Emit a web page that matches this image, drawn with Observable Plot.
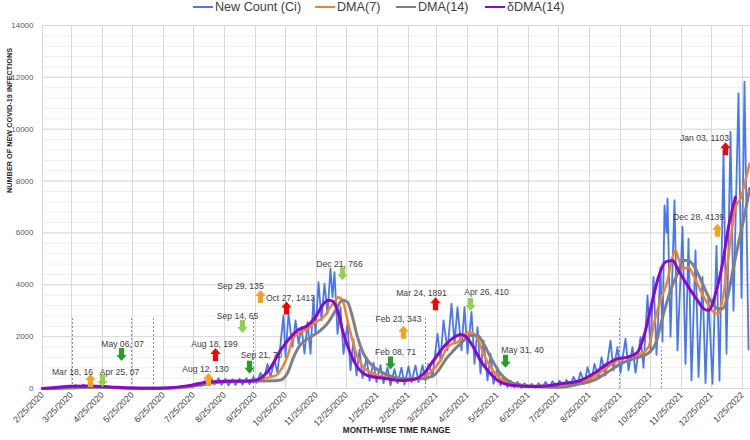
<!DOCTYPE html>
<html><head><meta charset="utf-8">
<script src="https://cdn.jsdelivr.net/npm/d3@7"></script>
<script src="https://cdn.jsdelivr.net/npm/@observablehq/plot@0.6"></script>
<style>
body{margin:0;background:#fff;font-family:"Liberation Sans",Arial,sans-serif;}
#wrap{position:relative;width:750px;height:440px;overflow:hidden;}
#legend{position:relative;height:20px;font-size:12.6px;color:#404040;}
#legend .item{position:absolute;top:0;height:14px;display:flex;align-items:center;white-space:nowrap;}
#legend .sw{display:inline-block;width:20px;height:2.5px;margin-right:2px;}
#chart svg{display:block;}
</style></head><body>
<div id="wrap"><div id="legend"></div><div id="chart"></div></div>
<script>
// ---------- DATA ----------
const seriesNames = ["New Count (Ci)", "DMA(7)", "DMA(14)", "δDMA(14)"];

const newCount = [
["2020-02-25",0],["2020-03-02",5],["2020-03-09",30],["2020-03-14",60],["2020-03-17",20],["2020-03-21",110],
["2020-03-25",40],["2020-03-29",130],["2020-04-02",50],["2020-04-06",140],["2020-04-10",60],["2020-04-14",120],
["2020-04-18",40],["2020-04-22",100],["2020-04-27",30],["2020-05-02",70],["2020-05-07",20],["2020-05-13",40],
["2020-05-21",10],["2020-06-02",20],["2020-06-12",5],["2020-06-22",30],["2020-06-28",10],["2020-07-04",50],
["2020-07-08",20],["2020-07-13",90],["2020-07-17",40],["2020-07-21",150],["2020-07-25",60],["2020-07-29",220],
["2020-08-01",90],["2020-08-05",300],["2020-08-08",120],["2020-08-12",380],["2020-08-15",150],["2020-08-19",400],
["2020-08-22",140],["2020-08-26",380],["2020-08-29",120],["2020-09-02",360],["2020-09-05",130],["2020-09-09",380],
["2020-09-12",150],["2020-09-16",400],["2020-09-19",170],["2020-09-23",450],["2020-09-26",220],["2020-09-30",600],
["2020-10-03",320],["2020-10-07",950],["2020-10-10",420],["2020-10-14",1100],["2020-10-17",600],["2020-10-23",2820],
["2020-10-25",1210],["2020-10-28",2880],["2020-11-01",1600],["2020-11-04",2625],["2020-11-07",1730],["2020-11-10",2370],
["2020-11-13",1340],["2020-11-16",2560],["2020-11-19",1340],["2020-11-22",3520],["2020-11-24",2110],["2020-11-27",4100],
["2020-11-30",2625],["2020-12-03",4040],["2020-12-06",2880],["2020-12-09",4620],["2020-12-11",3520],["2020-12-13",4490],
["2020-12-16",2110],["2020-12-19",3140],["2020-12-22",1340],["2020-12-26",2500],["2020-12-29",700],["2021-01-01",1900],
["2021-01-04",500],["2021-01-07",1500],["2021-01-10",400],["2021-01-14",1200],["2021-01-17",300],["2021-01-21",1000],
["2021-01-24",250],["2021-01-28",900],["2021-01-31",200],["2021-02-04",800],["2021-02-07",120],["2021-02-11",750],
["2021-02-14",200],["2021-02-18",800],["2021-02-21",150],["2021-02-25",850],["2021-02-28",250],["2021-03-04",890],
["2021-03-07",250],["2021-03-11",900],["2021-03-14",300],["2021-03-17",950],["2021-03-21",450],["2021-03-26",2110],
["2021-03-29",1080],["2021-04-01",2625],["2021-04-05",1470],["2021-04-09",3270],["2021-04-12",1730],["2021-04-15",3140],
["2021-04-19",1470],["2021-04-22",3140],["2021-04-25",1340],["2021-04-29",2950],["2021-05-02",950],["2021-05-05",2370],
["2021-05-08",570],["2021-05-11",1850],["2021-05-15",310],["2021-05-18",1340],["2021-05-21",180],["2021-05-25",820],
["2021-05-28",115],["2021-05-31",440],["2021-06-04",60],["2021-06-07",300],["2021-06-11",50],["2021-06-14",250],
["2021-06-18",30],["2021-06-21",200],["2021-06-25",40],["2021-06-28",180],["2021-07-02",30],["2021-07-05",200],
["2021-07-09",50],["2021-07-12",250],["2021-07-16",60],["2021-07-19",280],["2021-07-23",80],["2021-07-26",300],
["2021-07-30",100],["2021-08-02",330],["2021-08-06",120],["2021-08-09",450],["2021-08-13",150],["2021-08-16",630],
["2021-08-20",200],["2021-08-23",820],["2021-08-27",300],["2021-08-30",950],["2021-09-03",400],["2021-09-06",1210],
["2021-09-10",500],["2021-09-15",1850],["2021-09-18",700],["2021-09-22",1600],["2021-09-25",600],["2021-09-30",1920],
["2021-10-03",700],["2021-10-07",1600],["2021-10-10",600],["2021-10-15",1980],["2021-10-18",800],["2021-10-22",3590],
["2021-10-25",1500],["2021-10-28",4300],["2021-10-31",1300],["2021-11-04",4680],["2021-11-06",1800],["2021-11-08",7060],
["2021-11-10",6000],["2021-11-11",7330],["2021-11-14",2000],["2021-11-18",7260],["2021-11-21",1470],["2021-11-26",6230],
["2021-11-29",950],["2021-12-02",5780],["2021-12-05",310],["2021-12-09",5330],["2021-12-12",440],["2021-12-16",4300],
["2021-12-19",200],["2021-12-22",3520],["2021-12-26",180],["2021-12-30",5500],["2022-01-02",300],["2022-01-06",9190],
["2022-01-09",1340],["2022-01-13",9900],["2022-01-16",3000],["2022-01-21",11380],["2022-01-24",3500],["2022-01-27",11830],
["2022-01-31",1500]
];

const dma7 = [
["2020-02-25",0],["2020-03-14",20],["2020-04-03",60],["2020-04-23",50],["2020-05-13",20],["2020-06-02",5],
["2020-07-02",20],["2020-07-22",80],["2020-08-06",200],["2020-08-16",280],["2020-08-29",300],["2020-09-10",290],
["2020-09-22",320],["2020-10-02",380],["2020-10-10",450],["2020-10-16",520],["2020-10-23",900],["2020-10-27",1250],
["2020-11-02",1980],["2020-11-09",2170],["2020-11-16",2300],["2020-11-24",2560],["2020-12-02",2750],["2020-12-09",3140],
["2020-12-14",3400],["2020-12-17",3520],["2020-12-21",3400],["2020-12-26",2625],["2020-12-31",1850],["2021-01-05",1210],
["2021-01-11",820],["2021-01-21",570],["2021-02-04",410],["2021-02-17",375],["2021-03-09",375],["2021-03-19",630],
["2021-03-29",1080],["2021-04-05",1600],["2021-04-10",1730],["2021-04-15",1790],["2021-04-23",2110],["2021-04-28",2170],
["2021-05-05",1920],["2021-05-11",1340],["2021-05-18",820],["2021-05-28",375],["2021-06-10",180],["2021-06-27",100],
["2021-07-27",115],["2021-08-16",245],["2021-08-29",440],["2021-09-12",820],["2021-09-22",1080],["2021-10-02",1210],
["2021-10-15",1340],["2021-10-23",1600],["2021-10-30",2750],["2021-11-04",3400],["2021-11-11",4170],["2021-11-16",5070],
["2021-11-19",5330],["2021-11-22",5000],["2021-11-27",4620],["2021-12-02",4680],["2021-12-07",4360],["2021-12-14",3780],
["2021-12-21",3270],["2021-12-27",2950],["2022-01-01",2880],["2022-01-06",3650],["2022-01-13",5710],["2022-01-18",7000],
["2022-01-23",7320],["2022-01-28",8030],["2022-02-01",8670]
];

const dma14 = [
["2020-02-25",0],["2020-03-24",20],["2020-04-13",50],["2020-05-03",40],["2020-05-23",15],["2020-06-22",10],
["2020-07-17",60],["2020-08-01",130],["2020-08-16",230],["2020-08-31",270],["2020-09-15",280],["2020-09-30",290],
["2020-10-13",300],["2020-10-20",330],["2020-10-27",600],["2020-11-02",1200],["2020-11-09",1700],["2020-11-19",1980],
["2020-11-29",2240],["2020-12-07",2560],["2020-12-14",3010],["2020-12-21",3400],["2020-12-26",3330],["2020-12-31",2750],
["2021-01-05",1980],["2021-01-11",1340],["2021-01-18",950],["2021-01-28",650],["2021-02-10",440],["2021-02-24",375],
["2021-03-09",375],["2021-03-22",500],["2021-04-05",1210],["2021-04-18",1730],["2021-04-28",2045],["2021-05-05",2045],
["2021-05-11",1730],["2021-05-18",1210],["2021-05-28",570],["2021-06-07",245],["2021-06-20",115],["2021-07-12",60],
["2021-07-27",50],["2021-08-16",180],["2021-08-29",310],["2021-09-12",630],["2021-09-25",950],["2021-10-08",1150],
["2021-10-22",1340],["2021-10-30",1730],["2021-11-07",2880],["2021-11-14",3780],["2021-11-21",4430],["2021-11-27",4940],
["2021-12-02",4940],["2021-12-09",4620],["2021-12-16",4040],["2021-12-24",3400],["2021-12-31",3080],["2022-01-05",3080],
["2022-01-10",3520],["2022-01-16",4680],["2022-01-23",5970],["2022-01-30",7260],["2022-02-01",7710]
];

const deltaDma14 = [
["2020-02-25",0],["2020-03-09",40],["2020-03-24",90],["2020-04-13",100],["2020-05-03",60],["2020-05-23",20],
["2020-06-12",10],["2020-07-02",30],["2020-07-22",120],["2020-08-06",230],["2020-08-21",270],["2020-09-05",280],
["2020-09-23",300],["2020-10-02",450],["2020-10-10",800],["2020-10-20",1470],["2020-10-30",1980],["2020-11-06",2240],
["2020-11-16",2430],["2020-11-24",2750],["2020-12-02",3270],["2020-12-07",3400],["2020-12-11",3370],["2020-12-16",3010],
["2020-12-22",2110],["2020-12-29",1350],["2021-01-05",820],["2021-01-15",500],["2021-02-04",375],["2021-02-17",310],
["2021-03-02",350],["2021-03-12",570],["2021-03-22",1080],["2021-04-01",1600],["2021-04-11",1960],["2021-04-18",2085],
["2021-04-23",2010],["2021-04-30",1660],["2021-05-08",1080],["2021-05-18",570],["2021-05-28",245],["2021-06-10",115],
["2021-06-27",80],["2021-07-12",100],["2021-07-27",180],["2021-08-16",310],["2021-08-29",570],["2021-09-12",950],
["2021-09-22",1150],["2021-10-02",1210],["2021-10-12",1400],["2021-10-20",2240],["2021-10-27",3400],["2021-11-02",4300],
["2021-11-09",4880],["2021-11-16",4940],["2021-11-22",4555],["2021-12-02",3910],["2021-12-11",3400],["2021-12-17",3080],
["2021-12-22",3010],["2021-12-29",3650],["2022-01-05",4810],["2022-01-11",6230],["2022-01-18",7380]
];

// vertical dashed markers: date, top value
const markerDates = ["2020-03-26","2020-05-24","2020-06-15","2020-09-23","2021-03-14","2021-09-24","2021-11-05"];
const markerTops  = [2750, 2750, 2750, 2750, 2750, 2750, 1580];

// annotations
const annotText = ["Mar 18, 16","Apr 25, 07","May 06, 07","Aug 12, 130","Aug 18, 199","Sep 21, 70","Sep 14, 65",
  "Sep 29, 135","Oct 27, 1413","Dec 21, 766","Feb 08, 71","Feb 23, 343","Mar 24, 1891","Apr 26, 410","May 31, 40",
  "Dec 28, 4139","Jan 03, 1103"];
const annotTextDate = ["2020-03-26","2020-05-12","2020-05-15","2020-08-06","2020-08-15","2020-10-01","2020-09-07",
  "2020-09-10","2020-10-30","2020-12-18","2021-02-12","2021-02-15","2021-03-10","2021-05-14","2021-06-19",
  "2021-12-12","2021-12-18"];
const annotTextValue = [630,630,1700,735,1700,1275,2780,3950,3490,4790,1390,2675,3655,3695,1467,6615,9640];
const annotArrowDate = ["2020-04-13","2020-04-25","2020-05-14","2020-08-09","2020-08-16","2020-09-19","2020-09-12",
  "2020-09-30","2020-10-26","2020-12-21","2021-02-07","2021-02-20","2021-03-24","2021-04-28","2021-06-02",
  "2021-12-31","2022-01-08"];
const annotArrowValue = [310,310,1310,350,1310,820,2390,3550,3100,4430,980,2170,3270,3240,1050,6100,9250];
const annotKind = ["rise","ease","drop","rise","surge","drop","ease","rise","surge","ease","drop","rise","surge","ease","drop","rise","surge"];

const xTickLabels = ["2/25/2020","3/25/2020","4/25/2020","5/25/2020","6/25/2020","7/25/2020","8/25/2020","9/25/2020",
  "10/25/2020","11/25/2020","12/25/2020","1/25/2021","2/25/2021","3/25/2021","4/25/2021","5/25/2021","6/25/2021",
  "7/25/2021","8/25/2021","9/25/2021","10/25/2021","11/25/2021","12/25/2021","1/25/2022"];
const yTicks = [0,2000,4000,6000,8000,10000,12000,14000];

// ---------- STYLE ----------
const seriesColors = ["#4877f5","#f5822a","#808080","#8a08c8"];
const markerColor = "#5a86f7";
const kindColor = {rise:"#f9a11b", ease:"#92d050", drop:"#2e9a2e", surge:"#ff0000"};
const kindDir = {rise:"up", ease:"down", drop:"down", surge:"up"};

// ---------- BUILD ----------
const parseISO = d3.utcParse("%Y-%m-%d");
const parseTick = d3.utcParse("%m/%d/%Y");
const rows = a => a.map(([d,v]) => ({date: parseISO(d), value: v}));
const xTicks = xTickLabels.map(parseTick);
const fmtTick = d3.utcFormat("%-m/%-d/%Y");

const markers = markerDates.map((d,i) => ({date: parseISO(d), top: markerTops[i]}));
const annots = annotText.map((t,i) => ({
  text: t, tdate: parseISO(annotTextDate[i]), tval: annotTextValue[i],
  adate: parseISO(annotArrowDate[i]), aval: annotArrowValue[i],
  color: kindColor[annotKind[i]], dir: kindDir[annotKind[i]]
}));

const upArrow = {draw(ctx){ ctx.moveTo(0,-6.5); ctx.lineTo(5.2,-0.5); ctx.lineTo(2.6,-0.5); ctx.lineTo(2.6,6.5);
  ctx.lineTo(-2.6,6.5); ctx.lineTo(-2.6,-0.5); ctx.lineTo(-5.2,-0.5); ctx.closePath(); }};
const downArrow = {draw(ctx){ ctx.moveTo(0,6.5); ctx.lineTo(5.2,0.5); ctx.lineTo(2.6,0.5); ctx.lineTo(2.6,-6.5);
  ctx.lineTo(-2.6,-6.5); ctx.lineTo(-2.6,0.5); ctx.lineTo(-5.2,0.5); ctx.closePath(); }};

const minorY = d3.range(0, 14001, 400);

const svg = Plot.plot({
  width: 750, height: 420,
  marginTop: 5, marginBottom: 52, marginLeft: 42, marginRight: 0,
  style: {fontFamily: "Liberation Sans, Arial, sans-serif", background: "#fff"},
  x: {type: "utc", domain: [parseISO("2020-02-25"), parseISO("2022-02-02")]},
  y: {domain: [0, 14000]},
  color: {type: "identity"},
  marks: [
    Plot.gridY({ticks: minorY, stroke: "#efefef", strokeOpacity: 1}),
    Plot.gridY({ticks: yTicks, stroke: "#d9d9d9", strokeOpacity: 1}),
    Plot.gridX({ticks: xTicks, stroke: "#d9d9d9", strokeOpacity: 1}),
    Plot.axisY({ticks: yTicks, tickFormat: d3.format("d"), tickSize: 0, tickPadding: 9, fontSize: 8, fill: "#595959", label: null}),
    Plot.axisX({ticks: xTicks, tickFormat: fmtTick, tickRotate: -45, tickSize: 0, tickPadding: 5,
      fontSize: 8.8, fill: "#404040", label: null}),
    Plot.ruleX(markers, {x: "date", y1: 0, y2: "top", stroke: markerColor, strokeWidth: 0.9, strokeDasharray: "2,2"}),
    Plot.line(rows(newCount), {x: "date", y: "value", stroke: seriesColors[0], strokeWidth: 1.8}),
    Plot.line(rows(dma7), {x: "date", y: "value", stroke: seriesColors[1], strokeWidth: 2.5, curve: "monotone-x"}),
    Plot.line(rows(dma14), {x: "date", y: "value", stroke: seriesColors[2], strokeWidth: 3, curve: "monotone-x"}),
    Plot.line(rows(deltaDma14), {x: "date", y: "value", stroke: seriesColors[3], strokeWidth: 3, curve: "monotone-x"}),
    Plot.dot(annots.filter(a => a.dir === "up"), {x: "adate", y: "aval", symbol: upArrow, fill: "color", stroke: null}),
    Plot.dot(annots.filter(a => a.dir === "down"), {x: "adate", y: "aval", symbol: downArrow, fill: "color", stroke: null}),
    Plot.text(annots, {x: "tdate", y: "tval", text: "text", fontSize: 8.6, fill: "#404040", ariaLabel: "annot"}),
    Plot.text(["NUMBER OF NEW COVID-19 INFECTIONS"], {frameAnchor: "left", rotate: -90, dx: -33, dy: -14,
      fontSize: 7.3, fontWeight: "bold", fill: "#262626"}),
    Plot.text(["MONTH-WISE TIME RANGE"], {frameAnchor: "bottom", dy: 44, fontSize: 8.2, fontWeight: "bold", fill: "#262626"})
  ]
});

// bold value part of annotation labels
svg.querySelectorAll('g[aria-label="annot"] text').forEach(t => {
  const s = t.textContent, k = s.lastIndexOf(", ");
  t.textContent = s.slice(0, k + 2);
  const ts = document.createElementNS("http://www.w3.org/2000/svg", "tspan");
  ts.setAttribute("font-weight", "bold");
  ts.setAttribute("fill", "#000");
  ts.textContent = s.slice(k + 2);
  t.appendChild(ts);
});
document.getElementById("chart").appendChild(svg);

// legend
const legendLeft = [193, 315, 396, 485];
const legend = document.getElementById("legend");
seriesNames.forEach((n, i) => {
  const it = document.createElement("div");
  it.className = "item";
  it.style.left = legendLeft[i] + "px";
  it.innerHTML = `<span class="sw" style="background:${seriesColors[i]}"></span><span>${n}</span>`;
  legend.appendChild(it);
});
</script>
</body></html>
